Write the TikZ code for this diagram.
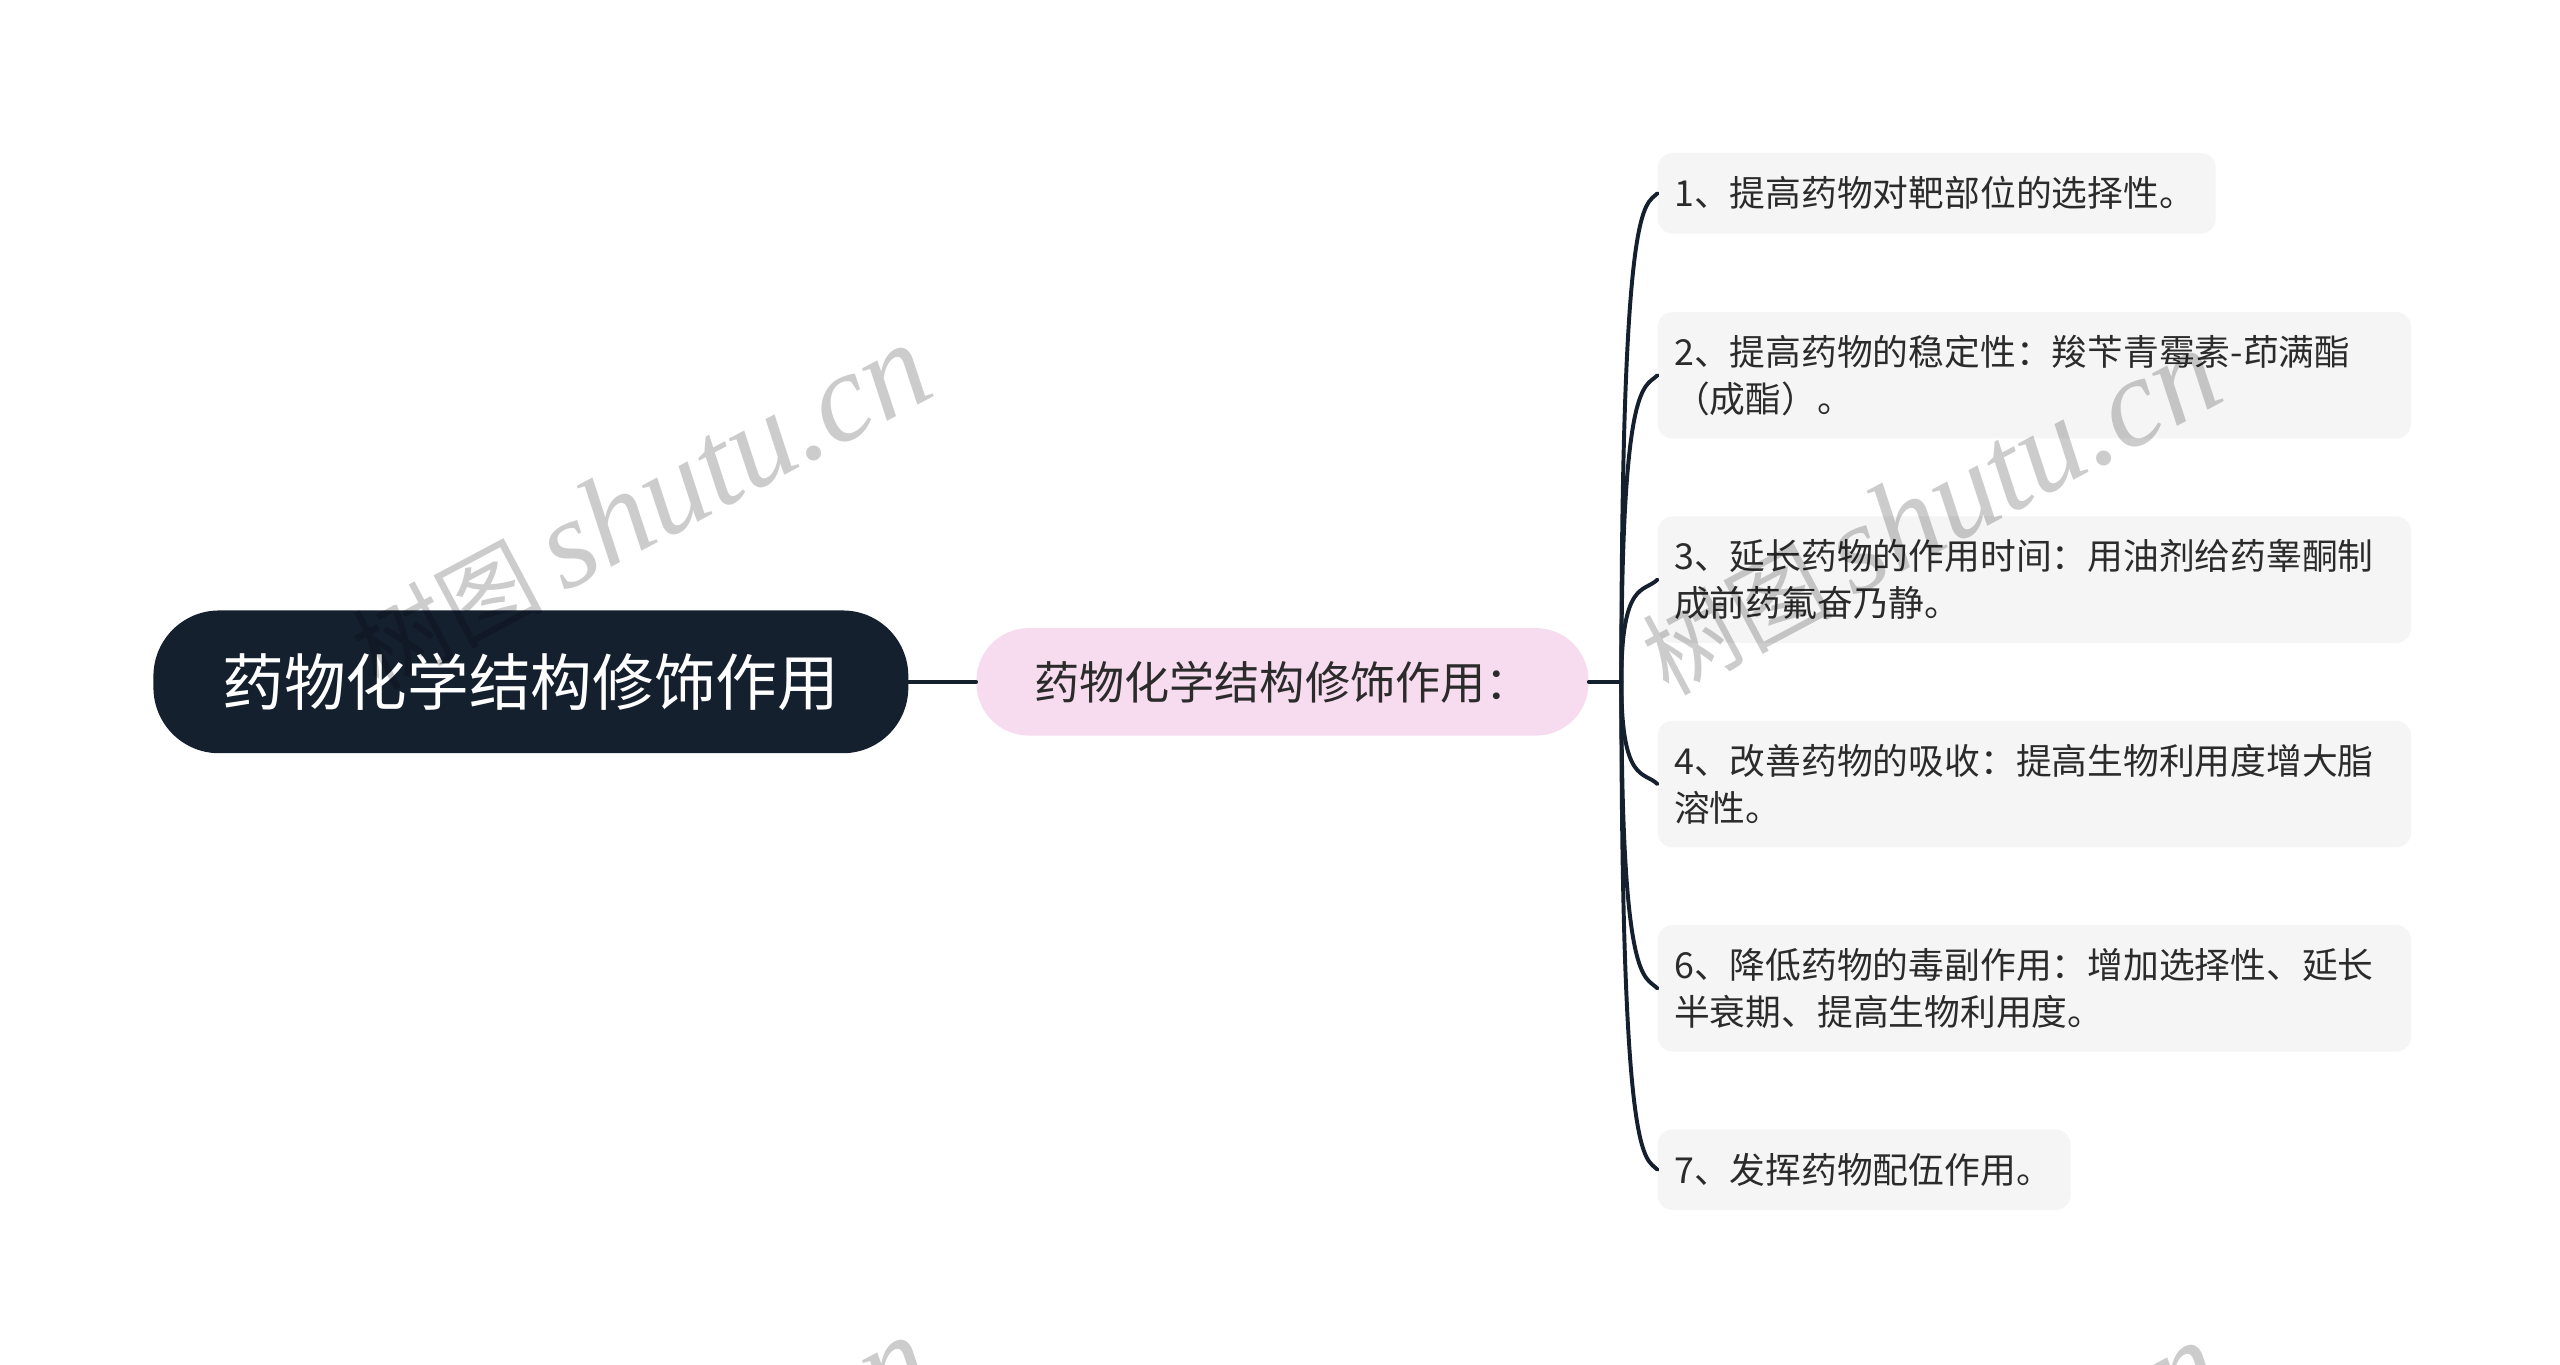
\documentclass[tikz,border=0pt]{standalone}
\usepackage{fontspec}
\newfontfamily\cjk{Noto Sans CJK SC}
\newfontfamily\wmlat{Liberation Serif}
\usetikzlibrary{calc}
\definecolor{navy}{HTML}{15202F}
\definecolor{pinkfill}{HTML}{F7DCEF}
\definecolor{boxfill}{HTML}{F5F5F5}
\definecolor{txt}{HTML}{2B2B2B}
\begin{document}
\begin{tikzpicture}[x=1pt,y=-1pt,
  rootnode/.style={fill=navy, rounded corners=40pt, minimum width=460pt, minimum height=87pt, inner sep=0pt, text=white, font=\cjk\fontsize{37.6}{40}\selectfont},
  subnode/.style={fill=pinkfill, rounded corners=32pt, minimum width=373pt, minimum height=65.5pt, inner sep=0pt, text=txt, font=\cjk\fontsize{27.5}{30}\selectfont},
  leaf/.style={fill=boxfill, rounded corners=9pt, anchor=west, inner xsep=10pt, inner ysep=0pt, align=left, text=txt, font=\cjk\fontsize{21.8}{28.8}\selectfont},
  single/.style={leaf, minimum height=49pt},
  double/.style={leaf, minimum height=77pt, text width=439pt},
  link/.style={draw=navy, line width=2.4pt, line cap=round},
  wm/.style={text=black, opacity=0.2, rotate=28, inner sep=0pt}
]
\useasboundingbox (0,0) rectangle (1560,831.2);
\clip (0,0) rectangle (1560,831.2);
\fill[white] (0,0) rectangle (1560,831.2);

\node[rootnode] (root) at (323.5,415.5) {药物化学结构修饰作用};
\node[subnode] (sub) at (781.5,415.5) {药物化学结构修饰作用：};
\coordinate (j) at (988,415.5);

\node[single, text width=320pt] (b1) at (1010,117.8) {1、提高药物对靶部位的选择性。};
\node[double] (b2) at (1010,228.7) {2、提高药物的稳定性：羧苄青霉素-茚满酯\\（成酯）。};
\node[double] (b3) at (1010,353.2) {3、延长药物的作用时间：用油剂给药睾酮制\\成前药氟奋乃静。};
\node[double] (b4) at (1010,477.8) {4、改善药物的吸收：提高生物利用度增大脂\\溶性。};
\node[double] (b6) at (1010,602.3) {6、降低药物的毒副作用：增加选择性、延长\\半衰期、提高生物利用度。};
\node[single, text width=231.5pt] (b7) at (1010,712.8) {7、发挥药物配伍作用。};

\draw[link] (root.east) -- (sub.west);
\draw[link] (sub.east) -- (j);
\foreach \n/\s in {b1/1, b2/1, b3/1, b4/-1, b6/-1, b7/-1}
  \draw[link] (j) .. controls (j |- \n.west) and ($(\n.west)+(-8,8*\s)$) .. (\n.west);

\foreach \i/\cx/\cy in {1/390/309, 2/1176/312, 3/390/914, 4/1176/917}
  \node[wm] (wm\i) at (\cx,\cy) {{\cjk\fontsize{58}{66}\selectfont 树图}\hspace{12pt}{\wmlat\itshape\fontsize{77}{80}\selectfont shutu.cn}};
\end{tikzpicture}
\end{document}
